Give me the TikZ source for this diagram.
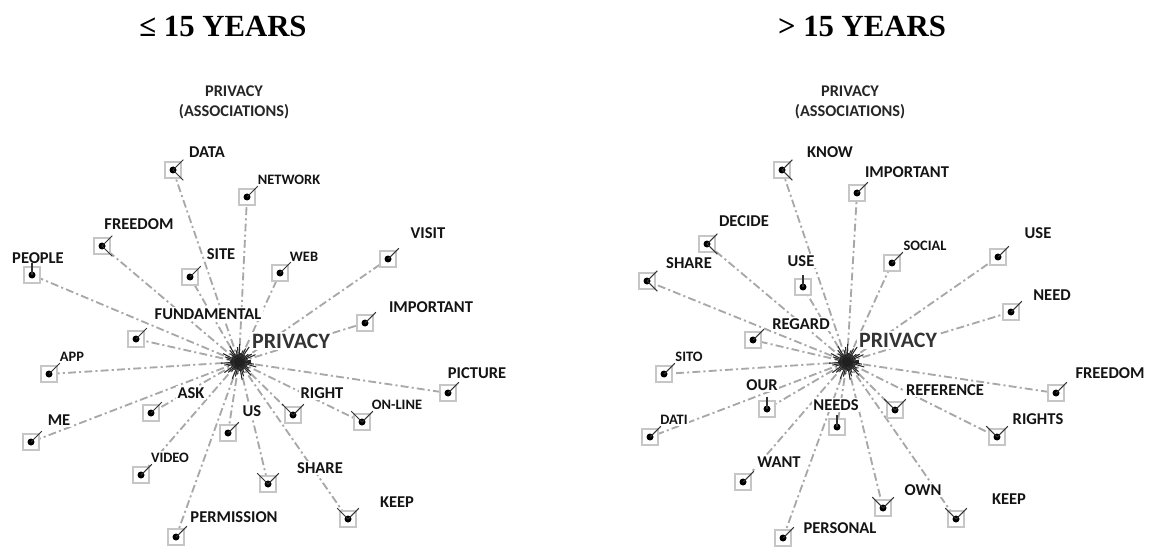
\documentclass[tikz,border=0pt]{standalone}
\usepackage{fontspec}
\setmainfont{Carlito}
\newfontfamily\ttlfont{Liberation Serif}
\usetikzlibrary{calc}
\pgfdeclarelayer{bg}
\pgfsetlayers{bg,main}
\newcommand\mkdot[1]{\fill[black] (#1.center) circle (0.07cm);}
\newcommand\tkUR[1]{\draw[tk] (#1.center) -- ($(#1.center)!1.25!(#1.north east)$);}
\newcommand\tkLT[1]{\draw[tk] ($(#1.center)!1.2!(#1.north east)$) -- (#1.center) -- ($(#1.center)!1.2!(#1.south east)$);}
\newcommand\tkV[1]{\draw[tk] ($(#1.center)!1.25!(#1.north west)$) -- (#1.center) -- ($(#1.center)!1.25!(#1.north east)$);}
\newcommand\tkUP[1]{\draw[tk] (#1.center) -- ($(#1.center)!1.45!(#1.north)$);}
\begin{document}
\begin{tikzpicture}[x=0.02cm,y=-0.02cm,
  conn/.style={draw=gray!68, line width=1.05pt, dash pattern=on 4.5pt off 1.8pt on 1.2pt off 1.8pt},
  mk/.style={draw=gray!45, line width=0.7pt, minimum size=0.32cm, inner sep=0pt, fill=white},
  tk/.style={draw=black!80, line width=0.6pt},
  lab/.style={font=\bfseries\fontsize{9.4}{10}\selectfont, text=black!92, fill=white, inner sep=1pt},
  slab/.style={font=\bfseries\fontsize{8.2}{9}\selectfont, text=black!92, fill=white, inner sep=1pt},
  big/.style={font=\bfseries\fontsize{12.5}{13}\selectfont, text=black!80, fill=white, inner sep=1pt},
  assoc/.style={font=\bfseries\fontsize{9.3}{11.3}\selectfont, text=black!85, align=center, inner sep=0pt},
  ttl/.style={font=\ttlfont\bfseries\fontsize{17.5}{20}\selectfont, inner sep=0pt},
  starl/.style={draw=gray!30!black, line width=0.6pt}]
\useasboundingbox (0,0) rectangle (1149,547);

% ---------------- left ----------------
\coordinate (cL) at (239,362);
\node[ttl] (tL) at (223,26) {≤ 15 YEARS};
\node[assoc] (aL) at (234,102) {PRIVACY\\(ASSOCIATIONS)};
\node[big] (pL) at (291,341) {PRIVACY};

\node[mk] (bLdata) at (173,170) {};   \node[lab]  (lLdata) at (207,152) {DATA};
\node[mk] (bLnet) at (247,197) {};    \node[slab] (lLnet) at (289,180) {NETWORK};
\node[mk] (bLfree) at (102,246) {};   \node[lab]  (lLfree) at (139,224) {FREEDOM};
\node[mk] (bLpeop) at (32,275) {};    \node[lab]  (lLpeop) at (38,258) {PEOPLE};
\node[mk] (bLsite) at (190,277) {};   \node[lab]  (lLsite) at (221,254) {SITE};
\node[mk] (bLweb) at (280,273) {};    \node[slab] (lLweb) at (304,257) {WEB};
\node[mk] (bLvis) at (388,259) {};    \node[lab]  (lLvis) at (428,233) {VISIT};
\node[mk] (bLimp) at (365,323) {};    \node[lab]  (lLimp) at (431,307) {IMPORTANT};
\node[mk] (bLfund) at (136,339) {};   \node[lab]  (lLfund) at (208,314) {FUNDAMENTAL};
\node[mk] (bLapp) at (49,374) {};     \node[slab] (lLapp) at (72,357) {APP};
\node[mk] (bLpic) at (448,393) {};    \node[lab]  (lLpic) at (477,373) {PICTURE};
\node[mk] (bLask) at (151,413) {};    \node[lab]  (lLask) at (191,393) {ASK};
\node[mk] (bLme) at (31,442) {};      \node[lab]  (lLme) at (59,420) {ME};
\node[mk] (bLright) at (293,415) {};  \node[lab]  (lLright) at (322,393) {RIGHT};
\node[mk] (bLon) at (362,422) {};     \node[slab] (lLon) at (397,405) {ON-LINE};
\node[mk] (bLus) at (228,433) {};     \node[lab]  (lLus) at (252,411) {US};
\node[mk] (bLvid) at (141,475) {};    \node[slab] (lLvid) at (170,458) {VIDEO};
\node[mk] (bLshare) at (268,484) {};  \node[lab]  (lLshare) at (320,468) {SHARE};
\node[mk] (bLkeep) at (348,519) {};   \node[lab]  (lLkeep) at (397,502) {KEEP};
\node[mk] (bLperm) at (176,537) {};   \node[lab]  (lLperm) at (234,517) {PERMISSION};

% ---------------- right ----------------
\coordinate (cR) at (847,362);
\node[ttl] (tR) at (862,26) {> 15 YEARS};
\node[assoc] (aR) at (850,102) {PRIVACY\\(ASSOCIATIONS)};
\node[big] (pR) at (898,340) {PRIVACY};

\node[mk] (bRknow) at (782,170) {};   \node[lab]  (lRknow) at (830,152) {KNOW};
\node[mk] (bRimp) at (857,193) {};    \node[lab]  (lRimp) at (907,172) {IMPORTANT};
\node[mk] (bRdec) at (707,244) {};    \node[lab]  (lRdec) at (744,221) {DECIDE};
\node[mk] (bRshare) at (647,281) {};  \node[lab]  (lRshare) at (689,263) {SHARE};
\node[mk] (bRuse) at (803,287) {};    \node[lab]  (lRuse) at (801,261) {USE};
\node[mk] (bRsoc) at (892,263) {};    \node[slab] (lRsoc) at (925,246) {SOCIAL};
\node[mk] (bRuse2) at (998,257) {};   \node[lab]  (lRuse2) at (1038,233) {USE};
\node[mk] (bRneed) at (1011,312) {};  \node[lab]  (lRneed) at (1052,295) {NEED};
\node[mk] (bRfree) at (1056,393) {};  \node[lab]  (lRfree) at (1110,373) {FREEDOM};
\node[mk] (bRreg) at (753,340) {};    \node[lab]  (lRreg) at (801,324) {REGARD};
\node[mk] (bRsito) at (664,374) {};   \node[slab] (lRsito) at (689,357) {SITO};
\node[mk] (bRour) at (767,409) {};    \node[lab]  (lRour) at (762,385) {OUR};
\node[mk] (bRdati) at (650,437) {};   \node[slab] (lRdati) at (674,420) {DATI};
\node[mk] (bRneeds) at (837,427) {};  \node[lab]  (lRneeds) at (836,405) {NEEDS};
\node[mk] (bRref) at (895,410) {};    \node[lab]  (lRref) at (945,390) {REFERENCE};
\node[mk] (bRrights) at (997,437) {}; \node[lab]  (lRrights) at (1038,419) {RIGHTS};
\node[mk] (bRwant) at (743,482) {};   \node[lab]  (lRwant) at (779,462) {WANT};
\node[mk] (bRa) at (883,508) {};      \node[lab]  (lRown) at (923,490) {OWN};
\node[mk] (bRb) at (956,519) {};      \node[lab]  (lRkeep) at (1009,499) {KEEP};
\node[mk] (bRc) at (783,538) {};      \node[lab]  (lRpers) at (840,528) {PERSONAL};

% ---------------- connectors ----------------
\begin{pgfonlayer}{bg}
\foreach \n in {bLdata,bLnet,bLfree,bLpeop,bLsite,bLweb,bLvis,bLimp,bLfund,bLapp,bLpic,bLask,bLme,bLright,bLon,bLus,bLvid,bLshare,bLkeep,bLperm}
  \draw[conn] (cL) -- (\n);
\foreach \n in {bRknow,bRimp,bRdec,bRshare,bRuse,bRsoc,bRuse2,bRneed,bRfree,bRreg,bRsito,bRour,bRdati,bRneeds,bRref,bRrights,bRwant,bRa,bRb,bRc}
  \draw[conn] (cR) -- (\n);
\end{pgfonlayer}

% ---------------- dots and ticks ----------------
\foreach \n/\t in {bLdata/LT,bLnet/UR,bLfree/LT,bLpeop/UP,bLsite/UR,bLweb/UR,bLvis/UR,bLimp/UR,bLfund/UR,bLapp/UR,bLpic/UR,bLask/UR,bLme/UR,bLright/V,bLon/V,bLus/UR,bLvid/UR,bLshare/V,bLkeep/V,bLperm/UR,
  bRknow/LT,bRimp/UR,bRdec/LT,bRshare/LT,bRuse/UP,bRsoc/UR,bRuse2/UR,bRneed/UR,bRfree/UR,bRreg/UR,bRsito/UR,bRour/UP,bRdati/UR,bRneeds/UP,bRref/V,bRrights/V,bRwant/UR,bRa/V,bRb/V,bRc/UR}
  {\mkdot{\n}\csname tk\t\endcsname{\n}}

% ---------------- centre stars ----------------
\foreach \c in {cL,cR}{
  \foreach \a [count=\i] in {0,8,...,352}
    \draw[starl] (\c) -- ++(\a:{9+3*mod(\i,4)});
  \fill[gray!25!black] (\c) circle (0.1cm);
}
\end{tikzpicture}
\end{document}
